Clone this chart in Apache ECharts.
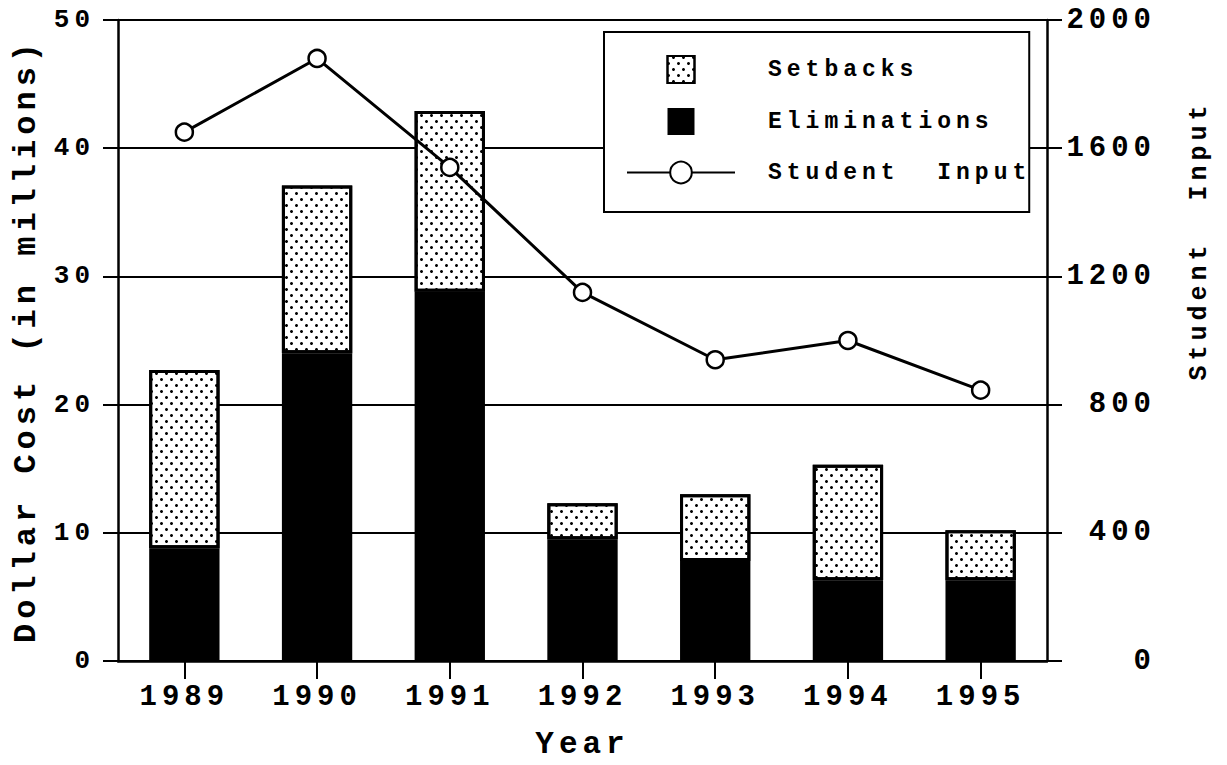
<!DOCTYPE html>
<html><head><meta charset="utf-8">
<script src="https://cdn.jsdelivr.net/npm/echarts@6/dist/echarts.min.js"></script>
<style>
html,body{margin:0;padding:0;background:#fff;}
#chart{width:1227px;height:765px;}
#chart text{letter-spacing:5px;white-space:pre;}
</style></head><body><div id="chart"></div>
<script>
const years = ['1989', '1990', '1991', '1992', '1993', '1994', '1995'];
const eliminations = [8.8, 24.0, 28.8, 9.5, 7.8, 6.3, 6.3];
const setbacks = [13.9, 13.1, 14.1, 2.8, 5.2, 9.0, 3.9];
const studentInput = [1650, 1880, 1540, 1150, 940, 1000, 845];

const FONT = "'Liberation Mono', 'Courier New', monospace";
const txt = (size, extra) => Object.assign({ fontFamily: FONT, fontWeight: 'bold', fontSize: size, color: '#000' }, extra || {});

const chart = echarts.init(document.getElementById('chart'), null, { renderer: 'svg' });
chart.setOption({
  animation: false,
  backgroundColor: '#fff',
  grid: { left: 118, right: 180, top: 20, bottom: 102, containLabel: false },
  legend: {
    orient: 'vertical', left: 604, top: 32,
    padding: [23, 68, 26, 22],
    itemWidth: 108, itemHeight: 27, itemGap: 24,
    borderColor: '#000', borderWidth: 2, backgroundColor: '#fff',
    selectedMode: false,
    data: [
      { name: 'Setbacks', icon: 'path://M0 0H10V10H0Z' },
      { name: 'Eliminations', icon: 'path://M0 0H10V10H0Z' },
      { name: 'Student  Input' }
    ],
    textStyle: txt(23, { padding: [0, 0, 0, 28], lineHeight: 27 })
  },
  xAxis: {
    type: 'category', data: years,
    axisLine: { show: true, lineStyle: { color: '#000', width: 2.5 } },
    axisTick: { show: true, alignWithLabel: true, length: 18, lineStyle: { color: '#000', width: 2 } },
    axisLabel: txt(29, { margin: 22 }),
    splitLine: { show: false },
    name: 'Year', nameLocation: 'middle', nameGap: 68,
    nameTextStyle: txt(31)
  },
  yAxis: [
    {
      type: 'value', min: 0, max: 50, interval: 10, position: 'left',
      axisLine: { show: true, lineStyle: { color: '#000', width: 2.5 } },
      axisTick: { show: true, length: 15, lineStyle: { color: '#000', width: 2 } },
      splitLine: { show: true, lineStyle: { color: '#000', width: 2 } },
      axisLabel: txt(26, { margin: 23 }),
      name: 'Dollar Cost (in millions)', nameLocation: 'middle', nameGap: 76,
      nameTextStyle: txt(32)
    },
    {
      type: 'value', min: 0, max: 2000, interval: 400, position: 'right',
      axisLine: { show: true, lineStyle: { color: '#000', width: 2.5 } },
      axisTick: { show: true, length: 15, lineStyle: { color: '#000', width: 2 } },
      splitLine: { show: false },
      axisLabel: txt(29, { margin: 109, align: 'right', formatter: v => String(v) }),
      name: 'Student  Input', nameLocation: 'middle', nameGap: 140,
      nameTextStyle: txt(25, { padding: [0, 0, 0, 200] })
    }
  ],
  series: [
    {
      name: 'Eliminations', type: 'bar', stack: 'cost', data: eliminations,
      barWidth: '53%',
      itemStyle: { color: '#000', borderColor: '#000', borderWidth: 0 },
      emphasis: { disabled: true }
    },
    {
      name: 'Setbacks', type: 'bar', stack: 'cost', data: setbacks,
      barWidth: '53%',
      itemStyle: {
        color: '#fff', borderColor: '#000', borderWidth: 3,
        decal: {
          symbol: 'circle', symbolSize: 1, color: '#000', backgroundColor: 'rgba(0,0,0,0)',
          dashArrayX: [[3, 7], [0, 5, 3, 2]],
          dashArrayY: [3, 2.8]
        }
      },
      emphasis: { disabled: true }
    },
    {
      name: 'Student  Input', type: 'line', yAxisIndex: 1, data: studentInput,
      symbol: 'circle', symbolSize: 17,
      itemStyle: { color: '#fff', borderColor: '#000', borderWidth: 2.5 },
      lineStyle: { color: '#000', width: 3 },
      z: 5,
      emphasis: { disabled: true }
    }
  ]
});
</script></body></html>
